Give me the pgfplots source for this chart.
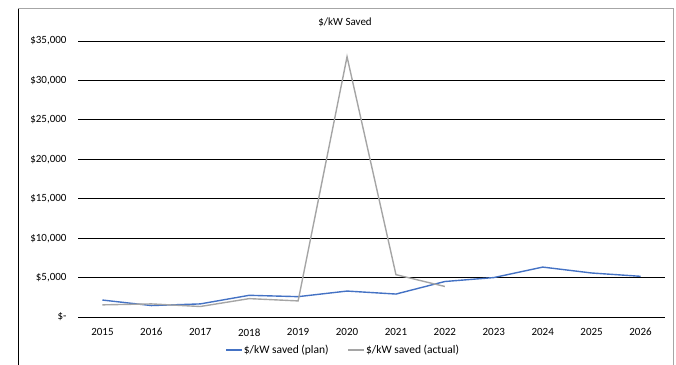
\documentclass[border=0pt]{standalone}
\usepackage{pgfplots}
\pgfplotsset{compat=1.18}
\usepackage{fontspec}
\setmainfont{Carlito}
\definecolor{planblue}{HTML}{4472C4}
\definecolor{actgray}{HTML}{A5A5A5}
\begin{document}
\begin{tikzpicture}[font=\fontsize{11bp}{13bp}\selectfont]
\useasboundingbox (0,0) rectangle (676bp,365bp);
\draw[black, line width=0.8pt] (18bp,0) -- (18bp,357bp);
\draw[gray!70, line width=0.8pt] (18bp,357bp) -- (673bp,357bp) -- (673bp,0);
\begin{axis}[
    at={(78bp,48bp)}, anchor=south west,
    scale only axis,
    width=587bp, height=276bp,
    xmin=-0.5, xmax=11.5,
    ymin=0, ymax=35000,
    xtick={0,...,11},
    xticklabels={2015,2016,2017,2018,2019,2020,2021,2022,2023,2024,2025,2026},
    ytick={0,5000,10000,15000,20000,25000,30000,35000},
    yticklabels={{\$-\hspace{14bp}},{\$5,000},{\$10,000},{\$15,000},{\$20,000},{\$25,000},{\$30,000},{\$35,000}},
    scaled y ticks=false,
    /pgf/number format/assume math mode=true,
    tick label style={font=\fontsize{11bp}{13bp}\selectfont},
    axis line style={draw=none},
    major tick length=0pt,
    ymajorgrids=true,
    grid style={black, line width=0.8pt},
    xticklabel style={yshift=-8bp},
    yticklabel style={xshift=-8bp},
    title={\$/kW Saved},
    title style={at={(0.455,1)}, anchor=center, yshift=13bp, font=\fontsize{11bp}{13bp}\selectfont},
    legend columns=2,
    legend style={at={(0.451,-0.12)}, anchor=center, draw=none, fill=none,
        font=\fontsize{11.5bp}{13bp}\selectfont,
        /tikz/every even column/.append style={column sep=18bp},
        nodes={inner xsep=1bp}},
    legend cell align=left,
    legend image code/.code={\draw[#1] (0bp,0bp) -- (16bp,0bp);},
]
\addplot[planblue, line width=1.4pt, mark=none] coordinates {
    (0,2150) (1,1450) (2,1660) (3,2750) (4,2580) (5,3290)
    (6,2910) (7,4500) (8,5000) (9,6330) (10,5580) (11,5160)
};
\addlegendentry{\$/kW saved (plan)}
\addplot[actgray, line width=1.4pt, mark=none] coordinates {
    (0,1540) (1,1660) (2,1330) (3,2330) (4,2040) (5,33000)
    (6,5370) (7,3870)
};
\addlegendentry{\$/kW saved (actual)}
\end{axis}
\end{tikzpicture}
\end{document}
